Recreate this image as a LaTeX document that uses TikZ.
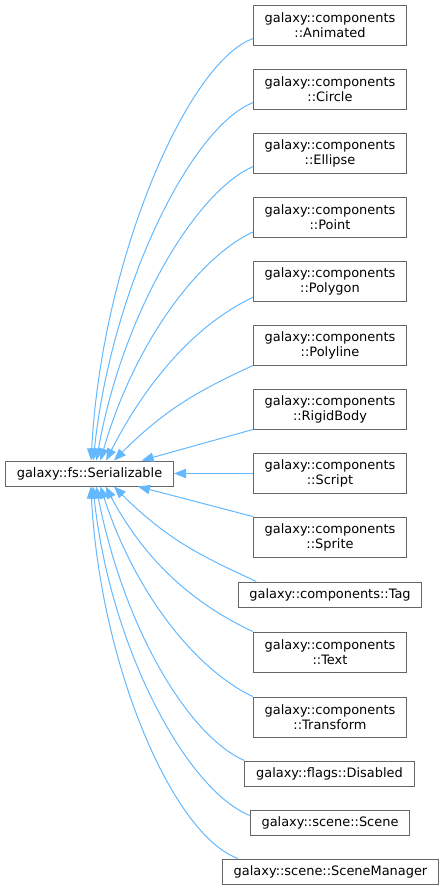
\documentclass[tikz,border=0pt]{standalone}
\usepackage{fontspec}
\setmainfont{DejaVu Sans}
\usetikzlibrary{arrows.meta}
\definecolor{edgeblue}{HTML}{63B8FF}
\definecolor{boxgray}{HTML}{666666}
\begin{document}
\begin{tikzpicture}[x=0.75pt,y=-0.75pt,
		cls/.style={draw=boxgray,fill=white,line width=0.75pt,inner xsep=8.5pt,inner ysep=2pt,
			minimum height=18.75pt,align=center,font=\fontsize{9.7}{11.25}\selectfont},
		cls2/.style={cls,minimum height=30pt},
		inh/.style={draw=edgeblue,line width=0.75pt,-{Triangle[length=9pt,width=7pt]}}]
	\useasboundingbox (0,0) rectangle (443,890);
	% base class
	\node[cls] (ser) at (89.5,473.5) {galaxy::fs::Serializable};
	% derived classes
	\node[cls2] (anim) at (330,25) {galaxy::components\\::Animated};
	\node[cls2] (circ) at (330,89) {galaxy::components\\::Circle};
	\node[cls2] (ell) at (330,153) {galaxy::components\\::Ellipse};
	\node[cls2] (pt) at (330,217) {galaxy::components\\::Point};
	\node[cls2] (pgon) at (330,281) {galaxy::components\\::Polygon};
	\node[cls2] (pline) at (330,345) {galaxy::components\\::Polyline};
	\node[cls2] (rigid) at (330,409) {galaxy::components\\::RigidBody};
	\node[cls2] (script) at (330,473.5) {galaxy::components\\::Script};
	\node[cls2] (sprite) at (330,537) {galaxy::components\\::Sprite};
	\node[cls] (tag) at (330,594.5) {galaxy::components::Tag};
	\node[cls2] (text) at (330,652) {galaxy::components\\::Text};
	\node[cls2] (trans) at (330,717) {galaxy::components\\::Transform};
	\node[cls] (dis) at (329.5,773.5) {galaxy::flags::Disabled};
	\node[cls] (scene) at (330,822.5) {galaxy::scene::Scene};
	\node[cls] (smgr) at (330.5,871.5) {galaxy::scene::SceneManager};
	% inheritance edges
	\draw[inh] (anim.190) .. controls +(160:70) and +(-87:200) .. (ser.83);
	\draw[inh] (circ.190) .. controls +(158:68) and +(-84:172) .. (ser.74.4);
	\draw[inh] (ell.190) .. controls +(156:64) and +(-80:147) .. (ser.62.5);
	\draw[inh] (pt.191) .. controls +(155:60) and +(-74:122) .. (ser.50);
	\draw[inh] (pgon.192.5) .. controls +(155:56) and +(-63:98) .. (ser.38.9);
	\draw[inh] (pline.south west) .. controls +(155:56) and +(-45:76) .. (ser.28);
	\draw[inh] (rigid.south west) -- (ser.14.5);
	\draw[inh] (script.west) -- (ser.east);
	\draw[inh] (sprite.north west) -- (ser.345.5);
	\draw[inh] (tag.170) .. controls +(205:56) and +(45:78) .. (ser.332);
	\draw[inh] (text.north west) .. controls +(205:56) and +(62:93) .. (ser.321);
	\draw[inh] (trans.north west) .. controls +(205:60) and +(72:116) .. (ser.310);
	\draw[inh] (dis.north west) .. controls +(204:64) and +(79:139) .. (ser.297.5);
	\draw[inh] (scene.175) .. controls +(202:68) and +(84:162) .. (ser.285.6);
	\draw[inh] (smgr.172) .. controls +(200:70) and +(87:178) .. (ser.276.8);
\end{tikzpicture}
\end{document}
